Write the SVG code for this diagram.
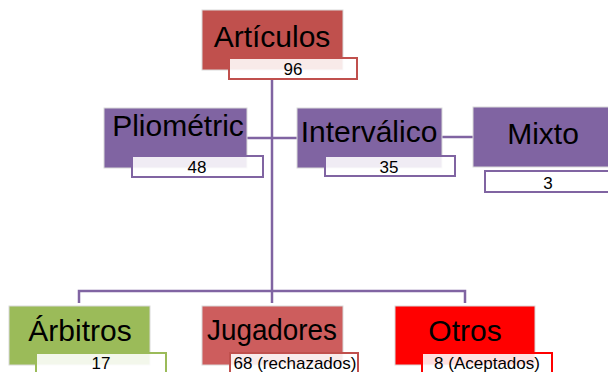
<svg xmlns="http://www.w3.org/2000/svg" width="608" height="372" viewBox="0 0 608 372">
<style>
.box{stroke:#d9d9d9;stroke-width:1}
.red{fill:#C0504D}
.red2{fill:#CD5D5D}
.pur{fill:#8064A2}
.grn{fill:#9BBB59}
.ored{fill:#FF0000}
.sub{fill:#ffffff;fill-opacity:0.88;stroke-width:2}
.t{font-family:"Liberation Sans",Arial,sans-serif;font-size:30px;fill:#000;text-anchor:middle}
.s{font-family:"Liberation Sans",Arial,sans-serif;font-size:17px;fill:#000;text-anchor:middle}
.c{stroke:#8064A2;stroke-width:2.5;fill:none}
</style>
<rect width="608" height="372" fill="#ffffff"/>
<g id="connectors">
<line class="c" x1="272" y1="79" x2="272" y2="291"/>
<line class="c" x1="247" y1="138" x2="297" y2="138"/>
<line class="c" x1="442" y1="137" x2="473" y2="137"/>
<polyline class="c" points="79,303 79,291 465,291 465,303"/>
<line class="c" x1="272" y1="291" x2="272" y2="303"/>
</g>
<g id="articulos">
<rect class="box red" x="202" y="10" width="141" height="60"/>
<text class="t" x="272" y="47">Artículos</text>
<rect class="sub" x="229" y="58" width="128" height="21" stroke="#C0504D"/>
<text class="s" x="293" y="75">96</text>
</g>
<g id="pliometric">
<rect class="box pur" x="104" y="108" width="143" height="60"/>
<text class="t" x="178" y="136">Pliométric</text>
<rect class="sub" x="132" y="156" width="131" height="21" stroke="#8064A2"/>
<text class="s" x="197" y="173">48</text>
</g>
<g id="intervalico">
<rect class="box pur" x="297" y="108" width="145" height="60"/>
<text class="t" x="369" y="142">Interválico</text>
<rect class="sub" x="325" y="156" width="130" height="20" stroke="#8064A2"/>
<text class="s" x="389" y="173">35</text>
</g>
<g id="mixto">
<rect class="box pur" x="473" y="107" width="140" height="60"/>
<text class="t" x="543" y="144">Mixto</text>
<rect class="sub" x="485" y="171" width="130" height="21" stroke="#8064A2"/>
<text class="s" x="548" y="189">3</text>
</g>
<g id="arbitros">
<rect class="box grn" x="9" y="306" width="141" height="59"/>
<text class="t" x="80" y="341">Árbitros</text>
<rect class="sub" x="36" y="353" width="130" height="25" stroke="#9BBB59"/>
<text class="s" x="101" y="369">17</text>
</g>
<g id="jugadores">
<rect class="box red2" x="202" y="306" width="141" height="59"/>
<text class="t" x="272" y="340" textLength="130" lengthAdjust="spacingAndGlyphs">Jugadores</text>
<rect class="sub" x="230" y="353" width="128" height="25" stroke="#C0504D"/>
<text class="s" x="295" y="369">68 (rechazados)</text>
</g>
<g id="otros">
<rect class="box ored" x="395" y="306" width="140" height="59"/>
<text class="t" x="465" y="341">Otros</text>
<rect class="sub" x="422" y="353" width="130" height="25" stroke="#FF0000"/>
<text class="s" x="487" y="369">8 (Aceptados)</text>
</g>
</svg>
